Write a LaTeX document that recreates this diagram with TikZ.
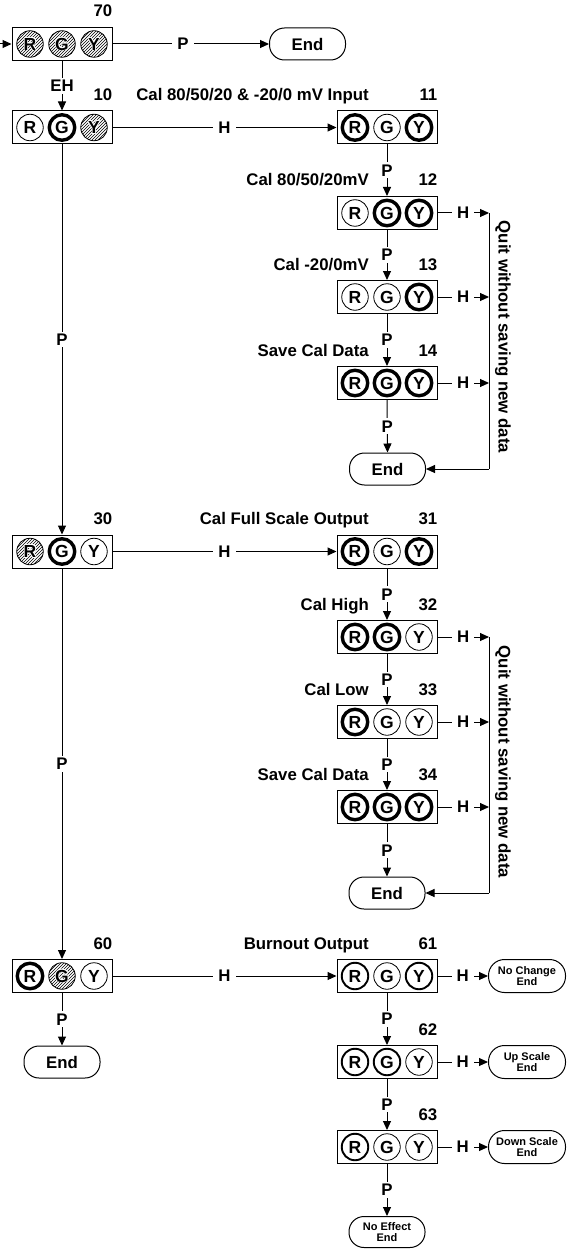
\documentclass[tikz,border=0pt]{standalone}
\usepackage{fontspec}
\setmainfont{Liberation Sans}
\usetikzlibrary{arrows.meta,patterns,calc}
\newcommand{\hl}[1]{\leavevmode
 \rlap{\color{white}\kern-0.8pt#1}\rlap{\color{white}\kern0.8pt#1}%
 \rlap{\color{white}\raisebox{0.8pt}{#1}}\rlap{\color{white}\raisebox{-0.8pt}{#1}}%
 \rlap{\color{white}\kern0.6pt\raisebox{0.6pt}{#1}}\rlap{\color{white}\kern-0.6pt\raisebox{0.6pt}{#1}}%
 \rlap{\color{white}\kern0.6pt\raisebox{-0.6pt}{#1}}\rlap{\color{white}\kern-0.6pt\raisebox{-0.6pt}{#1}}%
 #1}
\newcommand{\ledbox}[7]{%
 \node[box] (#1) at (#2,#3) {};
 \node[led,#4,xshift=-32pt] (#1R) at (#1.center) {\hl{R}};
 \node[led,#5] (#1G) at (#1.center) {\hl{G}};
 \node[led,#6,xshift=32pt] (#1Y) at (#1.center) {\hl{Y}};
 \node[lab,anchor=base east,yshift=10pt] (#1n) at (#1.north east) {#7};
}
\newcommand{\desc}[2]{\node[lab,anchor=base east,xshift=-18pt,yshift=10pt] (#1d) at (#1.north) {#2};}
\begin{document}
\begin{tikzpicture}[x=1pt,y=-1pt,
 box/.style={draw,line width=1pt,minimum width=100pt,minimum height=33pt,inner sep=0,fill=white},
 led/.style={circle,draw,minimum size=26.5pt,inner sep=0,fill=white,line width=0.8pt,font=\bfseries\fontsize{17.5}{17.5}\selectfont},
 off/.style={},
 on/.style={line width=3.4pt,minimum size=25.5pt},
 onm/.style={line width=1.9pt},
 fl/.style={fill=none,pattern=north east lines},
 lab/.style={font=\bfseries\fontsize{16.8}{16.8}\selectfont,inner sep=0},
 cl/.style={font=\bfseries\fontsize{16.8}{16.8}\selectfont,fill=white,inner xsep=5pt,inner ysep=2pt},
 conn/.style={line width=1pt},
 arr/.style={conn,-{Triangle[length=9pt,width=8pt]}},
 endn/.style={draw,line width=1pt,rounded corners=15pt,minimum width=76pt,minimum height=32pt,inner sep=0,font=\bfseries\fontsize{16.8}{16.8}\selectfont},
 sendn/.style={endn,rounded corners=16pt,minimum width=77pt,minimum height=33pt,align=center,font=\bfseries\fontsize{11}{11}\selectfont}
]
\useasboundingbox (0,0) rectangle (570,1249);

% boxes
\ledbox{b70}{62}{44}{fl}{fl}{fl}{70}
\ledbox{b10}{62}{127.5}{off}{on}{fl}{10}
\ledbox{b11}{387}{127.5}{on}{off}{on}{11}
\ledbox{b12}{387}{213}{off}{on}{on}{12}
\ledbox{b13}{387}{297}{off}{off}{on}{13}
\ledbox{b14}{387}{383}{on}{on}{on}{14}
\ledbox{b30}{62}{551.5}{fl}{on}{off}{30}
\ledbox{b31}{387}{551.5}{on}{off}{on}{31}
\ledbox{b32}{387}{637}{on}{on}{off}{32}
\ledbox{b33}{387}{722}{on}{off}{off}{33}
\ledbox{b34}{387}{807}{on}{on}{on}{34}
\ledbox{b60}{62}{976}{on}{fl}{off}{60}
\ledbox{b61}{387}{976}{onm}{off}{onm}{61}
\ledbox{b62}{387}{1062}{onm}{onm}{off}{62}
\ledbox{b63}{387}{1147}{onm}{off}{off}{63}

% descriptions
\desc{b11}{Cal 80/50/20 \& -20/0 mV Input}
\desc{b12}{Cal 80/50/20mV}
\desc{b13}{Cal -20/0mV}
\desc{b14}{Save Cal Data}
\desc{b31}{Cal Full Scale Output}
\desc{b32}{Cal High}
\desc{b33}{Cal Low}
\desc{b34}{Save Cal Data}
\desc{b61}{Burnout Output}

% end nodes
\node[endn] (endT) at (307.5,44) {End};
\node[endn] (end1) at (387.5,469) {End};
\node[endn] (end2) at (387,893) {End};
\node[endn] (endL) at (62,1062) {End};
\node[sendn] (nochange) at (527,976) {No Change\\End};
\node[sendn] (upscale) at (527,1062) {Up Scale\\End};
\node[sendn] (downscale) at (527,1147) {Down Scale\\End};
\node[sendn,minimum width=76pt,minimum height=31pt,rounded corners=15pt] (noeffect) at (387,1232) {No Effect\\End};

% quit texts
\node[lab,rotate=-90] (quit1) at (503,337) {Quit without saving new data};
\node[lab,rotate=-90] (quit2) at (503,762) {Quit without saving new data};

% connectors
\coordinate (in70) at (0,44);
\draw[arr] (in70) -- (b70.west);
\draw[arr] (b70.east) -- node[cl,pos=0.45]{P} (endT.west);
\draw[arr] (b70.south) -- node[cl]{EH} (b10.north);
\draw[arr] (b10.east) -- node[cl]{H} (b11.west);
\draw[arr] (b11.south) -- node[cl]{P} (b12.north);
\draw[arr] (b12.south) -- node[cl]{P} (b13.north);
\draw[arr] (b13.south) -- node[cl]{P} (b14.north);
\draw[arr] (b14.south) -- node[cl]{P} (end1.north);

\coordinate (q1t) at (489,213);
\coordinate (q1b) at (489,469);
\draw[conn] (q1t) -- (q1b);
\draw[arr] (q1b) -- (end1.east);
\draw[arr] (b12.east) -- node[cl]{H} (q1t);
\draw[arr] (b13.east) -- node[cl]{H} (b13.east -| q1t);
\draw[arr] (b14.east) -- node[cl]{H} (b14.east -| q1t);

\draw[arr] (b10.south) -- node[cl]{P} (b30.north);
\draw[arr] (b30.east) -- node[cl]{H} (b31.west);
\draw[arr] (b31.south) -- node[cl]{P} (b32.north);
\draw[arr] (b32.south) -- node[cl]{P} (b33.north);
\draw[arr] (b33.south) -- node[cl]{P} (b34.north);
\draw[arr] (b34.south) -- node[cl]{P} (end2.north);

\coordinate (q2t) at (489,637);
\coordinate (q2b) at (489,893);
\draw[conn] (q2t) -- (q2b);
\draw[arr] (q2b) -- (end2.east);
\draw[arr] (b32.east) -- node[cl]{H} (q2t);
\draw[arr] (b33.east) -- node[cl]{H} (b33.east -| q2t);
\draw[arr] (b34.east) -- node[cl]{H} (b34.east -| q2t);

\draw[arr] (b30.south) -- node[cl]{P} (b60.north);
\draw[arr] (b60.east) -- node[cl]{H} (b61.west);
\draw[arr] (b60.south) -- node[cl]{P} (endL.north);
\draw[arr] (b61.east) -- node[cl]{H} (nochange.west);
\draw[arr] (b61.south) -- node[cl]{P} (b62.north);
\draw[arr] (b62.east) -- node[cl]{H} (upscale.west);
\draw[arr] (b62.south) -- node[cl]{P} (b63.north);
\draw[arr] (b63.east) -- node[cl]{H} (downscale.west);
\draw[arr] (b63.south) -- node[cl]{P} (noeffect.north);
\end{tikzpicture}
\end{document}
